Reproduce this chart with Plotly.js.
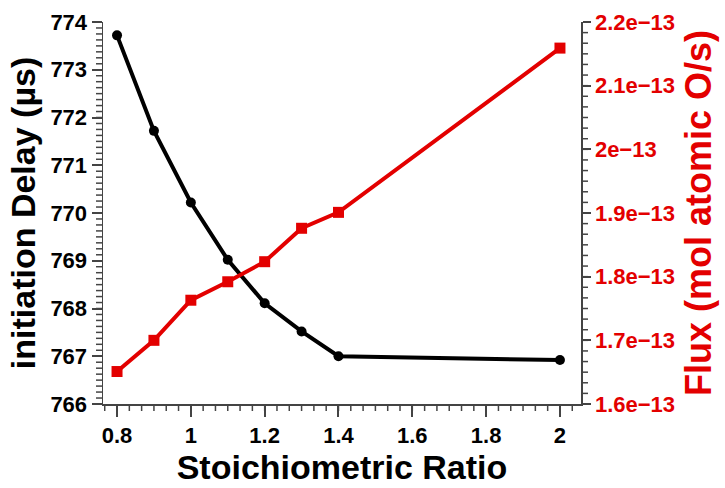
<!DOCTYPE html>
<html><head><meta charset="utf-8">
<script src="https://cdn.plot.ly/plotly-3.0.1.min.js"></script>
<style>body{margin:0;background:#fff}#c{width:725px;height:488px}</style>
</head><body><div id="c"></div>
<script>
const ratio = [0.8, 0.9, 1.0, 1.1, 1.2, 1.3, 1.4, 2.0];
const delay = [773.72, 771.72, 770.22, 769.02, 768.11, 767.52, 767.0, 766.92];
const flux = [1.651e-13, 1.700e-13, 1.763e-13, 1.792e-13, 1.8235e-13, 1.876e-13, 1.901e-13, 2.159e-13];
const xTick0 = 0.8, xStep = 0.2;
const yTick0 = 766, yStep = 1;
const fluxTick0 = 1.6e-13, fluxStep = 1e-14;
const xRange = [0.762, 2.057], yRange = [766, 774], fluxRange = [1.6e-13, 2.2e-13];

const RED = '#e30000';
const F = 'Liberation Sans, Arial, sans-serif';
const AX = '#444';
const TF = 22, TT = 34;
const W = 725, H = 488, M = {l: 103, r: 144, t: 22, b: 84};
const plotW = W - M.l - M.r, plotH = H - M.t - M.b;
const MINLEN = 7;

function minorVals(range, t0, step) {
  const out = [];
  const k0 = Math.ceil((range[0] - t0) / step - 1e-9), k1 = Math.floor((range[1] - t0) / step + 1e-9);
  for (let k = k0; k <= k1; k++) out.push(t0 + k * step);
  return out;
}

const tickLine = {color: '#444', width: 1.5};
const shapes = [];
minorVals(xRange, xTick0, xStep / 6).forEach(v => shapes.push({type: 'line', xref: 'x', yref: 'paper',
  x0: v, x1: v, y0: 0, y1: -MINLEN / plotH, line: tickLine, layer: 'above'}));
minorVals(yRange, yTick0, yStep / 8).forEach(v => shapes.push({type: 'line', xref: 'paper', yref: 'y',
  x0: 0, x1: -MINLEN / plotW, y0: v, y1: v, line: tickLine, layer: 'above'}));
minorVals(fluxRange, fluxTick0, fluxStep / 6).forEach(v => shapes.push({type: 'line', xref: 'paper', yref: 'y2',
  x0: 1, x1: 1 + MINLEN / plotW, y0: v, y1: v, line: tickLine, layer: 'above'}));

const traces = [
  {x: ratio, y: delay, mode: 'lines+markers', xaxis: 'x', yaxis: 'y',
   line: {color: '#000', width: 4}, marker: {color: '#000', size: 10, symbol: 'circle'}},
  {x: ratio, y: flux, mode: 'lines+markers', xaxis: 'x', yaxis: 'y2',
   line: {color: RED, width: 4}, marker: {color: RED, size: 11, symbol: 'square'}}
];

const layout = {
  width: W, height: H, showlegend: false,
  margin: M,
  paper_bgcolor: '#fff', plot_bgcolor: '#fff',
  font: {family: F, color: '#000'},
  shapes: shapes,
  xaxis: {range: xRange, tickmode: 'linear', tick0: xTick0, dtick: xStep,
    showgrid: false, zeroline: false, showline: true, linecolor: AX, linewidth: 1.5,
    ticks: 'outside', ticklen: 11, tickcolor: AX, tickwidth: 2,
    tickfont: {size: TF, family: F, weight: 'bold', color: '#000'},
    title: {text: 'Stoichiometric Ratio', font: {size: TT, family: F, weight: 'bold', color: '#000'}, standoff: 8}},
  yaxis: {range: yRange, tickmode: 'linear', tick0: yTick0, dtick: yStep,
    showgrid: false, zeroline: false, showline: true, linecolor: AX, linewidth: 1.5,
    ticks: 'outside', ticklen: 10, tickcolor: AX, tickwidth: 2,
    tickfont: {size: TF, family: F, weight: 'bold', color: '#000'},
    title: {text: 'initiation Delay (\u00b5s)', font: {size: TT, family: F, weight: 'bold', color: '#000'}, standoff: 4}},
  yaxis2: {overlaying: 'y', side: 'right', anchor: 'x', range: fluxRange, tickmode: 'linear',
    tick0: fluxTick0, dtick: fluxStep, exponentformat: 'e', showexponent: 'all',
    showgrid: false, zeroline: false, showline: true, linecolor: AX, linewidth: 1.5,
    ticks: 'outside', ticklen: 8, tickcolor: AX, tickwidth: 2,
    tickfont: {size: TF, family: F, weight: 'bold', color: RED},
    title: {text: 'Flux (mol atomic O/s)', font: {size: 36, family: F, weight: 'bold', color: RED}, standoff: 12}}
};
Plotly.newPlot('c', traces, layout, {displayModeBar: false, staticPlot: true});
</script></body></html>
